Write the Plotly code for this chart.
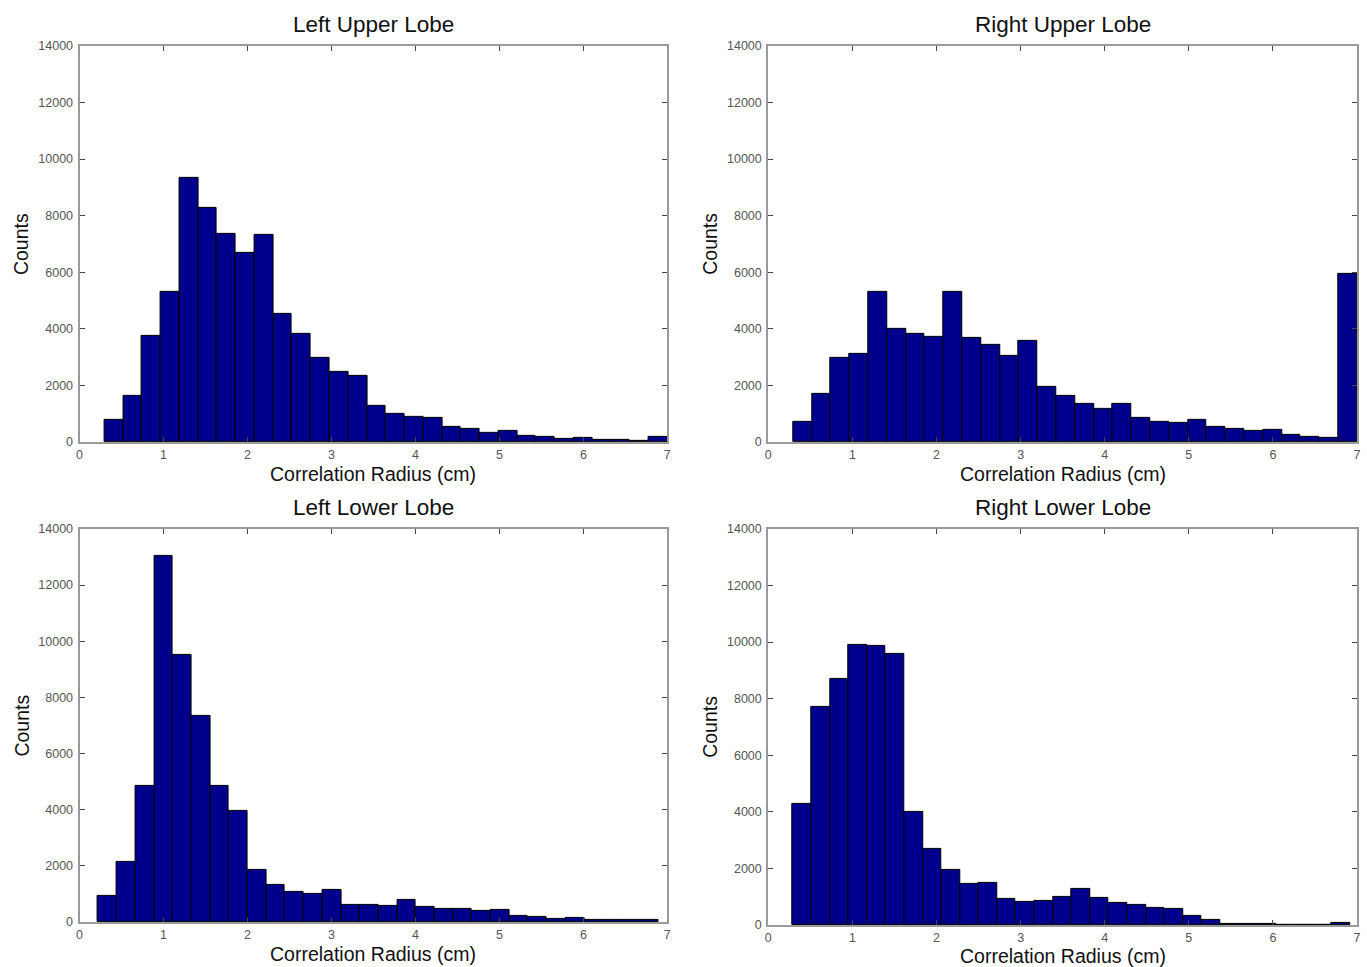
import numpy as np
import plotly.graph_objects as go

titles = ["Left Upper Lobe", "Right Upper Lobe", "Left Lower Lobe", "Right Lower Lobe"]

# histogram bin range (cm) per panel, 30 bins each
bin_lo = [0.296, 0.296, 0.22, 0.29]
bin_hi = [7.0, 7.0, 6.9, 6.92]

counts_lul = [800, 1635, 3765, 5306, 9341, 8282, 7341, 6671, 7318, 4541,
              3812, 2988, 2482, 2329, 1294, 988, 882, 847, 541, 471,
              329, 400, 212, 188, 129, 141, 71, 71, 47, 188]
counts_rul = [706, 1706, 2976, 3118, 5306, 4000, 3835, 3706, 5306, 3682,
              3424, 3047, 3565, 1965, 1635, 1365, 1176, 1365, 847, 729,
              671, 776, 529, 459, 400, 447, 271, 200, 141, 5953]
counts_lll = [949, 2135, 4863, 13049, 9514, 7343, 4863, 3950, 1862, 1329,
              1079, 996, 1151, 605, 605, 569, 795, 534, 463, 486,
              415, 427, 225, 202, 130, 166, 71, 71, 71, 95]
counts_rll = [4271, 7718, 8694, 9906, 9871, 9600, 4012, 2682, 1953, 1447,
              1494, 918, 835, 859, 988, 1294, 976, 788, 729, 612,
              576, 341, 200, 59, 59, 59, 24, 24, 24, 71]
all_counts = [counts_lul, counts_rul, counts_lll, counts_rll]

x_ticks = [0, 1, 2, 3, 4, 5, 6, 7]
y_ticks = [0, 2000, 4000, 6000, 8000, 10000, 12000, 14000]
y_ticklabels = ["0", "2000", "4000", "6000", "8000", "10000", "12000", "14000"]

W, H = 1367, 967
# target panel boxes in screen pixels: (left, right, top, bottom)
boxes = [(79, 667, 44, 441), (768, 1357, 44, 441),
         (79, 667, 528, 922), (768, 1357, 528, 925)]
title_y = [24.5, 24.5, 508, 508]
xtitle_y = [474.5, 474.5, 955, 957]
ylabel_x = [20.5, 709.5, 20.5, 709.5]

# compensation for the observed rendering transform
def fx(px):
    return (px - 2.4) / 0.9953


def fy(py):
    return (py - 5.05) / 0.9875


fig = go.Figure()
layout = dict(width=W, height=H, margin=dict(l=0, r=0, t=0, b=0),
              paper_bgcolor="white", plot_bgcolor="white", showlegend=False,
              font=dict(family="Liberation Sans, Arial, sans-serif", color="#222"),
              bargap=0)
annotations = []
for i in range(4):
    n = len(all_counts[i])
    edges = np.linspace(bin_lo[i], bin_hi[i], n + 1)
    centers = (edges[:-1] + edges[1:]) / 2
    width = edges[1] - edges[0]
    xa = "x" if i == 0 else f"x{i+1}"
    ya = "y" if i == 0 else f"y{i+1}"
    fig.add_trace(go.Bar(x=centers, y=all_counts[i], width=width,
                         marker=dict(color="#00008c", line=dict(color="black", width=1)),
                         xaxis=xa, yaxis=ya))
    l, r, t, b = boxes[i]
    l, r, t, b = fx(l), fx(r), fy(t), fy(b)
    axk = "xaxis" if i == 0 else f"xaxis{i+1}"
    ayk = "yaxis" if i == 0 else f"yaxis{i+1}"
    layout[axk] = dict(domain=[l / W, r / W], range=[0, 7], anchor=ya,
                       tickvals=x_ticks, ticks="inside", ticklen=5, tickcolor="#444",
                       showline=True, linecolor="#9a9a9a", linewidth=2, mirror="ticks",
                       showgrid=False, zeroline=False, ticklabelstandoff=0,
                       tickfont=dict(size=12.5, color="#555"))
    layout[ayk] = dict(domain=[1 - b / H, 1 - t / H], range=[0, 14000], anchor=xa,
                       tickvals=y_ticks, ticktext=y_ticklabels,
                       ticks="inside", ticklen=5, tickcolor="#444",
                       showline=True, linecolor="#9a9a9a", linewidth=2, mirror="ticks",
                       showgrid=False, zeroline=False, ticklabelstandoff=2,
                       tickfont=dict(size=12.5, color="#555"))
    cx = (l + r) / 2 / W
    annotations.append(dict(text=titles[i], x=cx, y=1 - fy(title_y[i] - 1.5) / H,
                            xref="paper", yref="paper",
                            showarrow=False, font=dict(size=22.5, color="#111"),
                            xanchor="center", yanchor="middle"))
    annotations.append(dict(text="Correlation Radius (cm)", x=cx, y=1 - fy(xtitle_y[i] - 1.5) / H,
                            xref="paper", yref="paper", showarrow=False,
                            font=dict(size=19.5, color="#111"), xanchor="center", yanchor="middle"))
    annotations.append(dict(text="Counts", x=fx(ylabel_x[i]) / W, y=1 - (t + b) / 2 / H,
                            xref="paper", yref="paper", showarrow=False, textangle=-90,
                            font=dict(size=19.5, color="#111"), xanchor="center", yanchor="middle"))
layout["annotations"] = annotations
fig.update_layout(**layout)
fig.write_html("out.html", config={"displayModeBar": False},
               post_script="document.body.style.margin='0';document.body.style.overflow='hidden';")
